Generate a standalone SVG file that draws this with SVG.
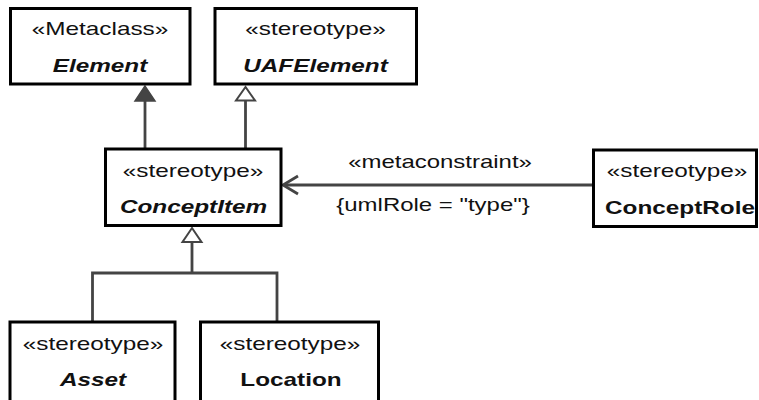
<svg xmlns="http://www.w3.org/2000/svg" width="759" height="400" viewBox="0 0 759 400">
<style>
.box{fill:#fff;stroke:#000;stroke-width:3}
.t{font-family:"Liberation Sans",Arial,sans-serif;font-size:17.5px;fill:#111;text-anchor:middle}
.b{font-weight:bold;font-size:19px}
.bi{font-weight:bold;font-style:italic;font-size:19px}
.c{fill:none;stroke:#444;stroke-width:2.8}
.hollow{fill:#fff;stroke:#444;stroke-width:2}
.filled{fill:#444;stroke:#444;stroke-width:1.5}
</style>
<rect width="759" height="400" fill="#fff"/>
<g id="connectors">
  <path class="c" d="M145 149V100"/>
  <polygon class="filled" points="145,86 135,101 155,101"/>
  <path class="c" d="M245.5 149V100"/>
  <polygon class="hollow" points="245.5,87 236,100.5 255,100.5"/>
  <path class="c" d="M593 185H284"/>
  <path class="c" d="M298 176L283 185L298 194"/>
  <path class="c" d="M192 243V273M92.5 321V273H277V321"/>
  <polygon class="hollow" points="192,228 182.5,242 201.5,242"/>
  <text class="t" transform="translate(440,168) scale(1.37,1)">«metaconstraint»</text>
  <text class="t" transform="translate(433,211) scale(1.37,1)">{umlRole = "type"}</text>
</g>
<g id="Element">
  <rect class="box" x="10.5" y="8.5" width="179.5" height="75.5"/>
  <text class="t" transform="translate(100,35) scale(1.39,1)">«Metaclass»</text>
  <text class="t bi" transform="translate(100,72) scale(1.28,1)">Element</text>
</g>
<g id="UAFElement">
  <rect class="box" x="215" y="8.5" width="201.5" height="75.5"/>
  <text class="t" transform="translate(315.5,35) scale(1.39,1)">«stereotype»</text>
  <text class="t bi" transform="translate(315.5,72) scale(1.28,1)">UAFElement</text>
</g>
<g id="ConceptItem">
  <rect class="box" x="105.5" y="149" width="175.5" height="76.5"/>
  <text class="t" transform="translate(193,176.5) scale(1.39,1)">«stereotype»</text>
  <text class="t bi" transform="translate(193.5,213) scale(1.28,1)">ConceptItem</text>
</g>
<g id="ConceptRole">
  <rect class="box" x="593.5" y="150" width="163" height="76.5"/>
  <text class="t" transform="translate(677,177) scale(1.39,1)">«stereotype»</text>
  <text class="t b" transform="translate(680,213.5) scale(1.28,1)">ConceptRole</text>
</g>
<g id="Asset">
  <rect class="box" x="10" y="322" width="165" height="100"/>
  <text class="t" transform="translate(93,350) scale(1.39,1)">«stereotype»</text>
  <text class="t bi" transform="translate(93,386) scale(1.28,1)">Asset</text>
</g>
<g id="Location">
  <rect class="box" x="200.5" y="322" width="178" height="100"/>
  <text class="t" transform="translate(290,350) scale(1.39,1)">«stereotype»</text>
  <text class="t b" transform="translate(291,386) scale(1.28,1)">Location</text>
</g>
</svg>
